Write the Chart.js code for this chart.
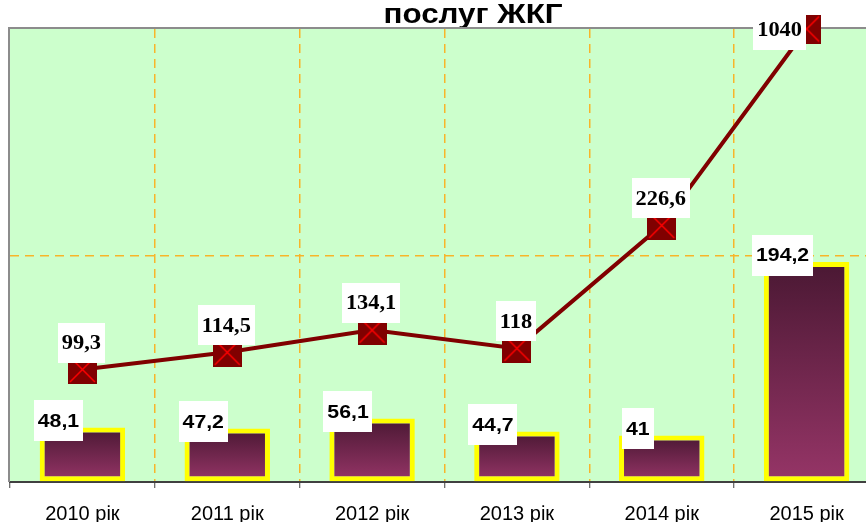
<!DOCTYPE html>
<html>
<head>
<meta charset="utf-8">
<script src="https://cdn.jsdelivr.net/npm/chart.js@4.4.0/dist/chart.umd.min.js"></script>
<style>
  body { margin: 0; background: #fff; overflow: hidden; }
  #wrap { width: 866px; height: 522px; overflow: hidden; position: relative; }
  canvas { display: block; }
</style>
</head>
<body>
<div id="wrap"><canvas id="chart" width="890" height="540"></canvas></div>
<script>
const years = ["2010 рік", "2011 рік", "2012 рік", "2013 рік", "2014 рік", "2015 рік"];
const barValues = [48.1, 47.2, 56.1, 44.7, 41, 194.2];
const lineValues = [99.3, 114.5, 134.1, 118, 226.6, 1040];
const yTicks = [0, 200, 400];
const yMax = yTicks[yTicks.length - 1];

const orange = "#F7B52A";
const stretch = 1.12; // the original picture is a bit wider than tall

// Excel keeps points above the axis max pinned to the top of the plot
const linePlotted = lineValues.map(v => Math.min(v, yMax));

function fmt(v) {
    return String(v).replace(".", ",");
}

function makeMarker(size) {
    const c = document.createElement("canvas");
    c.width = size;
    c.height = size;
    const g = c.getContext("2d");
    g.fillStyle = "#800000";
    g.fillRect(0, 0, size, size);
    g.strokeStyle = "#FF0000";
    g.lineWidth = 1.5;
    g.beginPath();
    g.moveTo(2, 2); g.lineTo(size - 2, size - 2);
    g.moveTo(size - 2, 2); g.lineTo(2, size - 2);
    g.stroke();
    return c;
}
const marker = makeMarker(29);

function wideText(ctx, text, x, y) {
    ctx.save();
    ctx.translate(x, y);
    ctx.scale(stretch, 1);
    ctx.fillText(text, 0, 0);
    ctx.restore();
}

const plotBackground = {
    id: "plotBackground",
    beforeDraw(chart) {
        const { ctx, chartArea: a } = chart;
        ctx.save();
        ctx.fillStyle = "#fff";
        ctx.fillRect(0, 0, chart.width, chart.height);
        ctx.fillStyle = "#CCFFCC";
        ctx.fillRect(a.left, a.top, a.right - a.left, a.bottom - a.top);
        // title (only its last line is visible)
        ctx.fillStyle = "#000";
        ctx.font = "bold 28px Arial, 'Liberation Sans', sans-serif";
        ctx.textAlign = "center";
        ctx.textBaseline = "alphabetic";
        wideText(ctx, "послуг ЖКГ", 473, 23);
        ctx.restore();
    },
    beforeDatasetsDraw(chart) {
        const { ctx, chartArea: a } = chart;
        ctx.save();
        ctx.strokeStyle = "#8C8C8C";
        ctx.lineWidth = 2;
        ctx.beginPath();
        ctx.moveTo(a.left - 1, a.bottom);
        ctx.lineTo(a.left - 1, a.top - 1);
        ctx.lineTo(a.right, a.top - 1);
        ctx.stroke();
        ctx.restore();
    }
};

function drawBox(ctx, text, cx, cy, h, font, pad) {
    ctx.font = font;
    const w = ctx.measureText(text).width * stretch + pad * 2;
    ctx.fillStyle = "#fff";
    ctx.fillRect(Math.round(cx - w / 2), Math.round(cy - h / 2), Math.round(w), h);
    ctx.fillStyle = "#000";
    ctx.textAlign = "center";
    ctx.textBaseline = "middle";
    wideText(ctx, text, cx, cy + 1);
}

const valueLabels = {
    id: "valueLabels",
    afterDatasetsDraw(chart) {
        const ctx = chart.ctx;
        ctx.save();
        chart.getDatasetMeta(1).data.forEach((el, i) => {
            drawBox(ctx, fmt(barValues[i]), el.x - 24, el.y - 7, 41,
                "bold 19px Arial, 'Liberation Sans', sans-serif", 4);
        });
        chart.getDatasetMeta(0).data.forEach((el, i) => {
            const v = lineValues[i];
            let cx = el.x - 1, cy = el.y - 27;
            if (v > yMax) {
                cx = el.x - 27;
                cy = chart.chartArea.top + 1;
            }
            drawBox(ctx, fmt(v), cx, cy, 40,
                "bold 20px 'Times New Roman', 'Liberation Serif', serif", 4);
        });
        ctx.restore();
    }
};

const ctx = document.getElementById("chart");

new Chart(ctx, {
    data: {
        labels: years,
        datasets: [
            {
                type: "line",
                order: 0,
                data: linePlotted,
                borderColor: "#800000",
                borderWidth: 4,
                tension: 0,
                pointStyle: marker,
                pointRadius: 14,
                pointHoverRadius: 14,
                clip: false
            },
            {
                type: "bar",
                order: 1,
                data: barValues,
                backgroundColor: (c) => {
                    const chart = c.chart;
                    if (c.type !== "data" || !chart.chartArea) return "#943463";
                    const y = chart.scales.y;
                    const top = y.getPixelForValue(c.raw);
                    const base = y.getPixelForValue(0);
                    const g = chart.ctx.createLinearGradient(0, top, 0, base);
                    g.addColorStop(0, "#4A1833");
                    g.addColorStop(1, "#963567");
                    return g;
                },
                borderColor: "#FFFF00",
                borderWidth: 5,
                borderSkipped: false,
                categoryPercentage: 1,
                barPercentage: 0.59
            }
        ]
    },
    options: {
        responsive: false,
        animation: false,
        events: [],
        layout: {
            autoPadding: false,
            padding: { left: 10, top: 29, right: 11, bottom: 0 }
        },
        plugins: {
            legend: { display: false },
            title: { display: false },
            tooltip: { enabled: false }
        },
        scales: {
            x: {
                offset: true,
                afterFit: (s) => {
                    s.height = 58;
                    s.paddingLeft = 0;
                    s.paddingRight = 0;
                },
                grid: {
                    offset: true,
                    color: (c) => c.index === 0 ? "transparent" : orange,
                    lineWidth: 1.5,
                    tickColor: "#404040",
                    tickLength: 6,
                    tickWidth: 1
                },
                border: { color: "#404040", width: 2, dash: [9, 6] },
                ticks: {
                    color: "#000",
                    padding: 14,
                    font: { family: "Arial, 'Liberation Sans', sans-serif", size: 20 }
                }
            },
            y: {
                min: 0,
                max: yMax,
                afterBuildTicks: (s) => { s.ticks = yTicks.map(v => ({ value: v })); },
                afterFit: (s) => { s.width = 0; },
                grid: {
                    drawTicks: false,
                    color: (c) => c.tick && c.tick.value === yTicks[1] ? orange : "transparent",
                    lineWidth: 1.5
                },
                border: { display: false, dash: [9, 6] },
                ticks: { display: false }
            }
        }
    },
    plugins: [plotBackground, valueLabels]
});
</script>
</body>
</html>
